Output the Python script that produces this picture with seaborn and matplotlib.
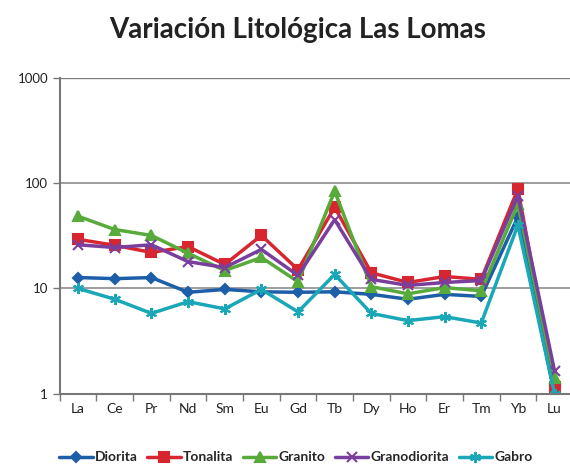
import matplotlib
matplotlib.use('Agg')
import matplotlib.pyplot as plt
import seaborn as sns
import pandas as pd
from matplotlib.ticker import FixedLocator, NullFormatter

# Datos
elementos = ['La', 'Ce', 'Pr', 'Nd', 'Sm', 'Eu', 'Gd', 'Tb', 'Dy', 'Ho', 'Er', 'Tm', 'Yb', 'Lu']
diorita = [12.7, 12.4, 12.7, 9.2, 9.8, 9.3, 9.2, 9.3, 8.8, 7.9, 8.8, 8.4, 48, 1.0]
tonalita = [29.3, 25.7, 22, 25, 16.9, 31.9, 15.1, 59, 14.1, 11.4, 13, 12.2, 88, 1.17]
granito = [48.5, 36.3, 31.9, 21.6, 14.8, 19.7, 11.6, 84, 10.4, 8.9, 10.2, 9.5, 63, 1.42]
granodiorita = [26, 24.5, 26, 18, 15.8, 23.5, 13.3, 45, 12.2, 10.7, 11.4, 11.9, 76, 1.65]
gabro = [10, 7.9, 5.8, 7.5, 6.4, 9.8, 6.0, 13.6, 5.8, 4.95, 5.4, 4.7, 40, 1.0]

rocas = ['Diorita', 'Tonalita', 'Granito', 'Granodiorita', 'Gabro']
series = [diorita, tonalita, granito, granodiorita, gabro]
colores = ['#1c5ea8', '#d7262f', '#58ab3a', '#7a3e9d', '#1aa7b7']
marcadores = ['D', 's', '^', 'x', (6, 2, 0)]
tamanos = [5.5, 7, 7.5, 6.5, 8]

fuente = ['Lato', 'DejaVu Sans']

sns.set_style('white')
plt.rcParams['font.family'] = fuente

fig = plt.figure(figsize=(5.7, 4.75), dpi=100)
ax = fig.add_axes([0.105, 0.171, 0.9, 0.665])

# una línea por tipo de roca
for roca, valores, color, marca, tam in zip(rocas, series, colores, marcadores, tamanos):
    df = pd.DataFrame({'elemento': elementos, 'valor': valores})
    sns.lineplot(data=df, x='elemento', y='valor', color=color, marker=marca,
                 markersize=tam, markeredgewidth=1.5, markeredgecolor=color,
                 linewidth=2.5, sort=False, label=roca, ax=ax)

ax.set_yscale('log')
ax.set_ylim(1, 1000)
ax.set_xlim(-0.5, len(elementos) - 0.5)
ax.set_yticks([1, 10, 100, 1000])
ax.set_yticklabels(['1', '10', '100', '1000'])
ax.yaxis.set_minor_formatter(NullFormatter())
ax.yaxis.set_minor_locator(FixedLocator([]))
ax.grid(axis='y', color='#8c8c8c', linewidth=1.2)
ax.axhline(1000, color='#333333', linewidth=1.6, zorder=0.5)
ax.set_axisbelow(True)

# marcas del eje x entre categorías
ax.xaxis.set_minor_locator(FixedLocator([i - 0.5 for i in range(len(elementos) + 1)]))
ax.tick_params(axis='x', which='major', length=0, labelsize=10, pad=7, colors='#222222')
ax.tick_params(axis='x', which='minor', length=5, width=1, color='#777777', direction='out', bottom=True)
ax.tick_params(axis='y', which='major', length=5, width=1, color='#777777',
               direction='out', labelsize=9.5, labelcolor='#222222', left=True)

for s in ['top', 'right']:
    ax.spines[s].set_visible(False)
for s in ['left', 'bottom']:
    ax.spines[s].set_color('#777777')
    ax.spines[s].set_linewidth(1.5)

ax.set_xlabel('')
ax.set_ylabel('')

fig.suptitle('Variación Litológica Las Lomas', x=0.522, y=0.965,
             fontsize=20, fontweight='bold', color='#222222')

handles, labels = ax.get_legend_handles_labels()
ax.legend(handles, labels, loc='lower center', bbox_to_anchor=(0.46, -0.26),
          ncol=5, frameon=False, handlelength=2.4,
          handletextpad=0.15, columnspacing=0.7,
          prop={'weight': 'bold', 'size': 10})

fig.savefig('out.png', dpi=100)
